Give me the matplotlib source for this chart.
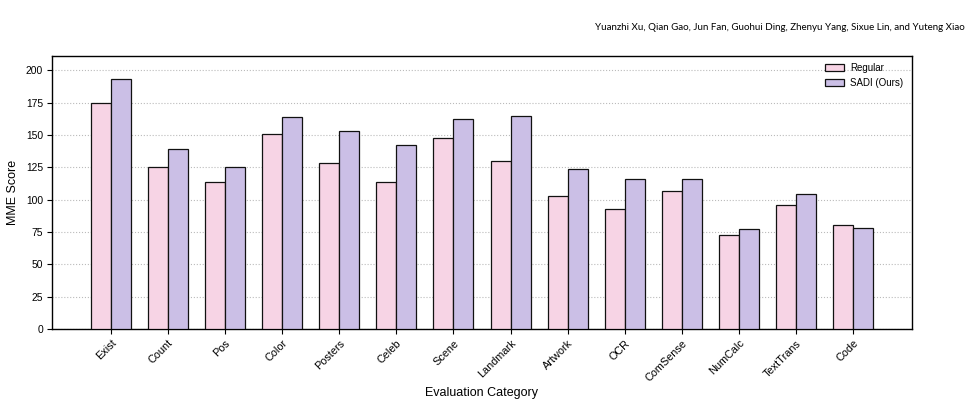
import matplotlib
matplotlib.use("Agg")
import matplotlib.pyplot as plt
import numpy as np

categories = ["Exist", "Count", "Pos", "Color", "Posters", "Celeb", "Scene",
              "Landmark", "Artwork", "OCR", "ComSense", "NumCalc", "TextTrans", "Code"]
regular = [175, 125, 114, 151, 128, 114, 148, 130, 103, 93, 107, 73, 96, 80]
sadi = [193, 139, 125, 164, 153, 142, 162, 165, 124, 116, 116, 77, 104, 78]
yticks = [0, 25, 50, 75, 100, 125, 150, 175, 200]

plt.rcParams["font.family"] = ["Liberation Sans", "DejaVu Sans"]

fig = plt.figure(figsize=(9.7, 4.07), dpi=100)
ax = fig.add_axes([52/970, 1-329/407, (912-52)/970, (329-56)/407])

x = np.arange(len(categories))
w = 0.35
ax.bar(x - w/2, regular, w, color="#f7d4e5", edgecolor="#111111", linewidth=0.9, label="Regular", zorder=3)
ax.bar(x + w/2, sadi, w, color="#cbbfe6", edgecolor="#111111", linewidth=0.9, label="SADI (Ours)", zorder=3)

ax.set_xlim(-1.03, len(categories) - 1 + 1.03)
ax.set_ylim(0, 211)
ax.set_yticks(yticks)
ax.set_xticks(x)
ax.set_xticklabels(categories, rotation=45, ha="right", rotation_mode="anchor", fontsize=7.8)
ax.tick_params(axis="y", labelsize=7.4, length=3.5, pad=3)
ax.tick_params(axis="x", length=3.5, pad=3)
ax.grid(axis="y", linestyle=":", color="#bbbbbb", linewidth=0.8, zorder=0)
ax.set_axisbelow(True)
for s in ax.spines.values():
    s.set_color("black")
    s.set_linewidth(1.0)
ax.set_ylabel("MME Score", fontsize=9.0, va="center")
ax.set_xlabel("Evaluation Category", fontsize=9.0, va="center")
ax.xaxis.set_label_coords(0.5, -(393-329)/(329-56))
ax.yaxis.set_label_coords(-(52-13)/(912-52), 0.5)
ax.legend(loc="upper right", frameon=False, fontsize=7, handlelength=2.0,
          handletextpad=0.6, bbox_to_anchor=(1.0, 1.007))

fig.text(965/970, 1-27/407, "Yuanzhi Xu, Qian Gao, Jun Fan, Guohui Ding, Zhenyu Yang, Sixue Lin, and Yuteng Xiao",
         ha="right", va="center", fontsize=7.0, family="Lato")

fig.savefig("out.png", dpi=100)
